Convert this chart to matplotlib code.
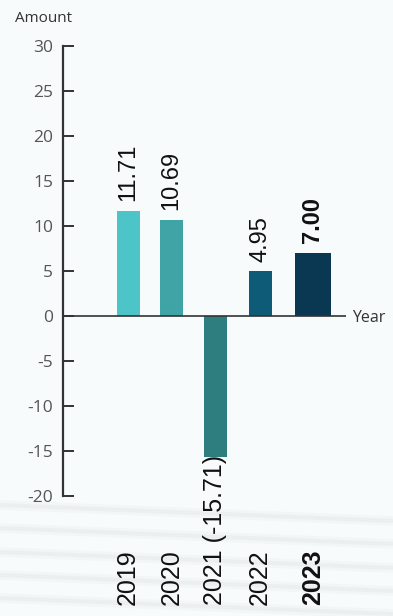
import matplotlib.pyplot as plt
import matplotlib.transforms as mtransforms

years = ["2019", "2020", "2021 (-15.71)", "2022", "2023"]
values = [11.71, 10.69, -15.71, 4.95, 7.00]
value_labels = ["11.71", "10.69", "", "4.95", "7.00"]
yticks = [-20, -15, -10, -5, 0, 5, 10, 15, 20, 25, 30]

# layout / style
xpos = [0, 0.98, 1.98, 3.0, 4.2]
widths = [0.52, 0.52, 0.52, 0.52, 0.82]
colors = ["#4dc4c8", "#40a3a6", "#2f7e7f", "#0e5b77", "#0a3853"]
bold = [False, False, False, False, True]
bg = "#f8fbfc"
ink = "#333333"

W, H = 393, 616
fig = plt.figure(figsize=(W / 100, H / 100), dpi=100, facecolor=bg)
ax = fig.add_axes([63 / W, 1 - 496 / H, (346 - 63) / W, (496 - 46) / H])
ax.set_facecolor(bg)

ax.bar(xpos, values, width=widths, color=colors, zorder=2)
ax.axhline(0, color=ink, lw=1.2, zorder=3)

ax.set_xlim(-1.48, 4.95)
ax.set_ylim(-20, 30)
ax.set_yticks(yticks)
ax.set_yticklabels([str(t) for t in yticks], family="Open Sans",
                   fontsize=12.5, color="#555555")
ax.tick_params(axis="y", direction="in", length=8, width=1.4,
               color=ink, pad=7)
ax.set_xticks([])
for s in ["top", "right", "bottom"]:
    ax.spines[s].set_visible(False)
ax.spines["left"].set_color(ink)
ax.spines["left"].set_linewidth(1.6)

# value labels above bars
for x, v, lab, b in zip(xpos, values, value_labels, bold):
    if not lab:
        continue
    ax.annotate(lab, (x, v), xytext=(0, 7), textcoords="offset points",
                rotation=90, ha="center", va="bottom", fontsize=17,
                family="Liberation Sans", color="#111111",
                fontweight="bold" if b else "normal")

# year labels along the bottom
trans = mtransforms.blended_transform_factory(ax.transData, fig.transFigure)
for x, lab, b in zip(xpos, years, bold):
    fig.text(x, 1 - 605 / H, lab, transform=trans, rotation=90,
             ha="center", va="bottom", fontsize=18,
             family="Liberation Sans", color="#111111",
             fontweight="bold" if b else "normal")

fig.text(15 / W, 1 - 19 / H, "Amount", family="Open Sans", fontsize=11,
         color=ink, ha="left", va="center")
fig.text(352 / W, 1 - 318 / H, "Year", family="Open Sans", fontsize=11.5,
         color=ink, ha="left", va="center")

# faint soft streaks across the lower part
for y0 in [505, 528, 552, 575, 598]:
    for lw, a in [(7, 0.04), (3, 0.06)]:
        fig.add_artist(plt.Line2D([0, 1], [1 - y0 / H, 1 - (y0 + 16) / H],
                                  transform=fig.transFigure, color="#8a8a8a",
                                  lw=lw, alpha=a, zorder=0,
                                  solid_capstyle="butt"))

fig.savefig("out.png", dpi=100, facecolor=bg)
